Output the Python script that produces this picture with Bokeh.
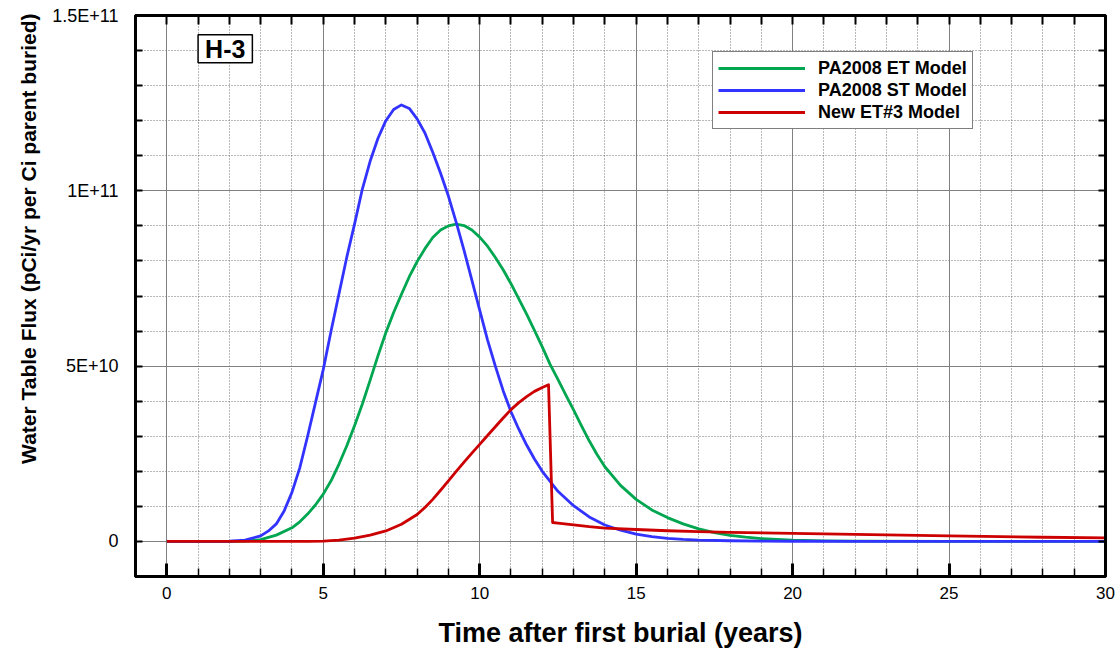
from bokeh.plotting import figure
from bokeh.models import FixedTicker, LinearAxis, Label, Range1d, Title
from bokeh.embed import file_html
from bokeh.resources import INLINE

# ---- data ----
t_et = [0, 2, 2.5, 3, 3.5, 4, 4.25, 4.5, 4.75, 5, 5.25, 5.5, 5.75, 6, 6.25, 6.5, 6.75, 7,
        7.25, 7.5, 7.75, 8, 8.25, 8.5, 8.75, 9, 9.25, 9.5, 9.75, 10, 10.25, 10.5, 10.75, 11,
        11.25, 11.5, 11.75, 12, 12.25, 12.5, 12.75, 13, 13.25, 13.5, 13.75, 14, 14.5, 15,
        15.5, 16, 16.5, 17, 17.5, 18, 18.5, 19, 20, 21, 22, 25, 30]
v_et = [0, 0, 1e8, 5e8, 1.8e9, 3.9e9, 5.6e9, 7.8e9, 1.04e10, 1.35e10, 1.73e10, 2.2e10,
        2.72e10, 3.3e10, 3.92e10, 4.6e10, 5.3e10, 5.95e10, 6.53e10, 7.05e10, 7.55e10,
        7.98e10, 8.35e10, 8.67e10, 8.88e10, 9.0e10, 9.05e10, 9.01e10, 8.88e10, 8.68e10,
        8.42e10, 8.1e10, 7.75e10, 7.35e10, 6.92e10, 6.48e10, 6.02e10, 5.55e10, 5.05e10,
        4.62e10, 4.18e10, 3.75e10, 3.3e10, 2.87e10, 2.48e10, 2.13e10, 1.6e10, 1.2e10, 9e9,
        6.8e9, 5e9, 3.6e9, 2.5e9, 1.7e9, 1.2e9, 8e8, 3.5e8, 1.5e8, 7e7, 2e7, 0]

t_st = [0, 1, 2, 2.5, 3, 3.25, 3.5, 3.75, 4, 4.25, 4.5, 4.75, 5, 5.25, 5.5, 5.75, 6, 6.25,
        6.5, 6.75, 7, 7.25, 7.5, 7.75, 8, 8.25, 8.5, 8.75, 9, 9.25, 9.5, 9.75, 10, 10.25,
        10.5, 10.75, 11, 11.25, 11.5, 11.75, 12, 12.5, 13, 13.5, 14, 14.5, 15, 15.5, 16,
        16.5, 17, 18, 19, 20, 22, 25, 30]
v_st = [0, 0, 5e7, 4e8, 1.6e9, 3.0e9, 5.0e9, 8.7e9, 1.4e10, 2.1e10, 3.0e10, 3.95e10,
        4.9e10, 6.0e10, 7.05e10, 8.1e10, 9.05e10, 1.005e11, 1.085e11, 1.15e11, 1.2e11,
        1.232e11, 1.245e11, 1.235e11, 1.205e11, 1.165e11, 1.11e11, 1.05e11, 9.85e10,
        9.1e10, 8.3e10, 7.45e10, 6.6e10, 5.75e10, 5.0e10, 4.3e10, 3.7e10, 3.2e10, 2.75e10,
        2.35e10, 2.0e10, 1.43e10, 1.02e10, 7.0e9, 4.7e9, 3.2e9, 2.1e9, 1.4e9, 9e8, 6e8,
        4e8, 2e8, 1e8, 5e7, 2e7, 1e7, 0]

t_new = [0, 4, 4.5, 5, 5.5, 6, 6.5, 7, 7.5, 8, 8.25, 8.5, 8.75, 9, 9.25, 9.5, 9.75, 10,
         10.25, 10.5, 10.75, 11, 11.25, 11.5, 11.75, 12, 12.2, 12.33, 12.5, 13, 13.5, 14,
         15, 16, 17, 18, 20, 22, 25, 28, 30]
v_new = [0, 0, 3e7, 1e8, 4e8, 9.5e8, 1.8e9, 3.0e9, 4.9e9, 7.7e9, 9.7e9, 1.2e10,
         1.46e10, 1.73e10, 2.0e10, 2.26e10, 2.52e10, 2.77e10, 3.02e10, 3.27e10, 3.52e10,
         3.76e10, 3.96e10, 4.13e10, 4.28e10, 4.39e10, 4.47e10, 5.4e9, 5.2e9, 4.7e9, 4.2e9,
         3.8e9, 3.4e9, 3.05e9, 2.8e9, 2.6e9, 2.3e9, 2.0e9, 1.6e9, 1.2e9, 1.0e9]

series_names = ["PA2008 ET Model", "PA2008 ST Model", "New ET#3 Model"]
series_colors = ["#00a650", "#3333ff", "#cc0000"]

x_major = [0, 5, 10, 15, 20, 25, 30]
x_minor = [v for v in range(-1, 31) if v not in x_major]
x_all = list(range(-1, 31))
y_major = [0, 50000000000, 100000000000, 150000000000]
y_minor = [k * 10000000000 for k in range(-1, 16) if k % 5 != 0]
y_all = [k * 10000000000 for k in range(-1, 16)]
y_labels = {0: "0", 50000000000: "5E+10", 100000000000: "1E+11", 150000000000: "1.5E+11"}

FONT = "Liberation Sans"

p = figure(width=1118, height=651, x_range=Range1d(-1, 30), y_range=Range1d(-1e10, 1.5e11),
           output_backend="svg", toolbar_location=None,
           min_border_left=135, min_border_right=13, min_border_top=15, min_border_bottom=75)
p.background_fill_color = "white"
p.border_fill_color = "white"
p.outline_line_color = "black"
p.outline_line_width = 3

xt = FixedTicker(ticks=x_major, minor_ticks=x_minor)
yt = FixedTicker(ticks=y_major, minor_ticks=y_minor)

bottom = p.below[0]
left = p.left[0]
top = LinearAxis()
right = LinearAxis()
p.add_layout(top, "above")
p.add_layout(right, "right")

bottom.ticker = xt
left.ticker = yt
top.ticker = FixedTicker(ticks=[], minor_ticks=x_all)
right.ticker = FixedTicker(ticks=[], minor_ticks=y_all)

for ax in (bottom, top, left, right):
    ax.axis_line_color = "black"
    ax.axis_line_width = 3
    ax.major_tick_out = 0
    ax.minor_tick_out = 0
    ax.major_tick_line_color = "black"
    ax.minor_tick_line_color = "black"
    ax.major_label_text_font = FONT
    ax.major_label_text_font_size = "18px"
    ax.major_label_text_color = "black"

bottom.major_tick_in = 13
bottom.minor_tick_in = 8
bottom.major_tick_line_width = 3
bottom.minor_tick_line_width = 1.5
top.minor_tick_in = 9
top.minor_tick_line_width = 2
left.major_tick_in = 7
left.minor_tick_in = 7
left.major_tick_line_width = 2
left.minor_tick_line_width = 2
right.minor_tick_in = 7
right.minor_tick_line_width = 2
top.major_label_standoff = 0
right.major_label_standoff = 0

bottom.major_label_text_font_size = "17px"
bottom.major_label_standoff = 10
left.major_label_standoff = 17
left.major_label_overrides = y_labels

bottom.axis_label = "Time after first burial (years)"
bottom.axis_label_text_font = FONT
bottom.axis_label_text_font_style = "bold"
bottom.axis_label_text_font_size = "27px"
bottom.axis_label_text_color = "black"
bottom.axis_label_standoff = 16

ytitle = Title(text="Water Table Flux (pCi/yr per Ci parent buried)", align="right",
               offset=-2, standoff=20, text_font=FONT, text_font_style="bold",
               text_font_size="21px", text_color="black")
p.add_layout(ytitle, "left")

p.xgrid.ticker = xt
p.ygrid.ticker = yt
for g in (p.xgrid[0], p.ygrid[0]):
    g.grid_line_color = "#808080"
    g.grid_line_width = 1
    g.grid_line_alpha = 1
    g.minor_grid_line_color = "#707070"
    g.minor_grid_line_width = 1
    g.minor_grid_line_dash = "1 2"

for tt, vv, name, col in zip([t_et, t_st, t_new], [v_et, v_st, v_new], series_names, series_colors):
    p.line(tt, vv, line_color=col, line_width=2.8, legend_label=name, line_join="round")

lg = p.legend[0]
lg.location = (577, 447)
lg.label_text_font = FONT
lg.label_text_font_style = "bold"
lg.label_text_font_size = "18px"
lg.label_text_color = "black"
lg.glyph_width = 87
lg.glyph_height = 22
lg.label_height = 22
lg.label_standoff = 13
lg.padding = 5
lg.spacing = 0
lg.margin = 0
lg.border_line_color = "black"
lg.border_line_width = 1.5
lg.background_fill_color = "white"
lg.background_fill_alpha = 1

h3 = Label(x=1.0, y=1.445e11, text="H-3", text_align="left", text_baseline="top",
           text_font=FONT, text_font_style="bold", text_font_size="25px", text_color="black",
           border_line_color="black", border_line_width=1.5,
           background_fill_color="white", background_fill_alpha=1, padding=(7, 0))
p.add_layout(h3)

open("out.html", "w").write(file_html(p, INLINE))
